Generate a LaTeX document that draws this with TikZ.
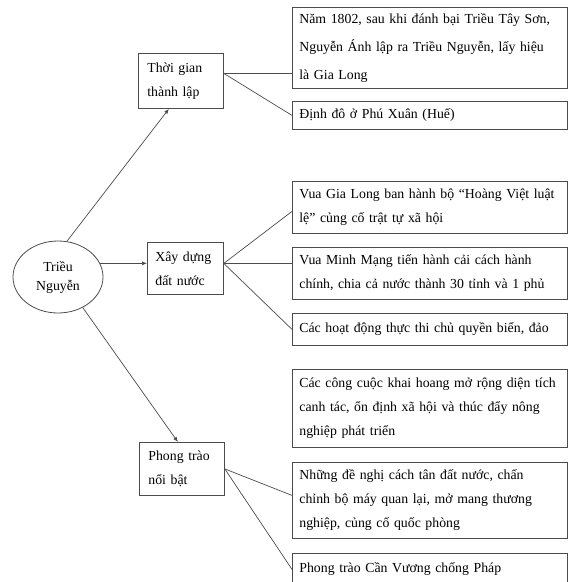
\documentclass[tikz,border=0pt]{standalone}
\usepackage{fontspec}
\setmainfont{Liberation Serif}
\usetikzlibrary{shapes.geometric,arrows.meta}
\begin{document}
\begin{tikzpicture}[x=1pt,y=-1pt,
  txt/.style={font=\fontsize{13.8}{24}\selectfont},
  rbox/.style={txt, draw=black!70, line width=0.8pt, anchor=north west,
    text width=261pt, inner xsep=7pt, inner ysep=0pt, align=left},
  lbox/.style={txt, draw=black!70, line width=0.8pt, anchor=north west,
    inner ysep=0pt, align=left},
  conn/.style={draw=black!70, line width=0.7pt},
  arr/.style={conn, -{Latex[length=5pt,width=4pt]}}]
\useasboundingbox (0,0) rectangle (576,582);
\clip (0,0) rectangle (576,582);
\fill[white] (0,0) rectangle (576,582);

% root
\node[ellipse, draw=black!70, line width=0.8pt, minimum width=90pt, minimum height=72pt,
  inner sep=0pt, align=center, font=\fontsize{13.8}{19}\selectfont] (root) at (58,277) {Triều\\Nguyễn};

% level 1
\node[lbox, minimum width=85pt, minimum height=55pt, text width=67pt, inner xsep=9pt] (t1) at (138,53) {Thời gian\\thành lập};
\node[lbox, minimum width=76pt, minimum height=52pt, text width=60pt, inner xsep=8pt] (t2) at (147,242) {Xây dựng\\đất nước};
\node[lbox, minimum width=85pt, minimum height=53pt, text width=67pt, inner xsep=9pt] (t3) at (139,442) {Phong trào\\nổi bật};

% level 2
\node[rbox, minimum height=81pt, font=\fontsize{13.8}{28}\selectfont] (r1) at (292,7)
  {Năm 1802, sau khi đánh bại Triều Tây Sơn,\\Nguyễn Ánh lập ra Triều Nguyễn, lấy hiệu\\là Gia Long};
\node[rbox, minimum height=28pt] (r2) at (292,101) {Định đô ở Phú Xuân (Huế)};
\node[rbox, minimum height=52pt] (r3) at (292,181)
  {Vua Gia Long ban hành bộ “Hoàng Việt luật\\lệ” củng cố trật tự xã hội};
\node[rbox, minimum height=52pt] (r4) at (292,247)
  {Vua Minh Mạng tiến hành cải cách hành\\chính, chia cả nước thành 30 tỉnh và 1 phủ};
\node[rbox, minimum height=32pt] (r5) at (292,313) {Các hoạt động thực thi chủ quyền biển, đảo};
\node[rbox, minimum height=78pt] (r6) at (292,369)
  {Các công cuộc khai hoang mở rộng diện tích\\canh tác, ổn định xã hội và thúc đẩy nông\\nghiệp phát triển};
\node[rbox, minimum height=76pt] (r7) at (292,462)
  {Những đề nghị cách tân đất nước, chấn\\chỉnh bộ máy quan lại, mở mang thương\\nghiệp, củng cố quốc phòng};
\node[rbox, minimum height=32pt] (r8) at (292,553) {Phong trào Cần Vương chống Pháp};

% arrows from root
\draw[arr] (root.76) -- ([xshift=-12pt]t1.south);
\draw[arr] (root.18) -- (root.18 -| t2.west);
\draw[arr] (root.-51) -- ([xshift=-4pt]t3.north);

% connectors
\coordinate (t1r) at ([yshift=7.5pt]t1.east);
\coordinate (t2r) at ([yshift=5pt]t2.east);
\draw[conn] (t1r) -- (t1r -| r1.west);
\draw[conn] (t1r) -- (r2.west);
\draw[conn] (t2r) -- ([yshift=-4pt]r3.west);
\draw[conn] (t2r) -- (t2r -| r4.west);
\draw[conn] (t2r) -- (r5.west);
\draw[conn] (t3.east) -- ([yshift=5pt]r7.west);
\draw[conn] (t3.east) -- (r8.west);
\end{tikzpicture}
\end{document}
